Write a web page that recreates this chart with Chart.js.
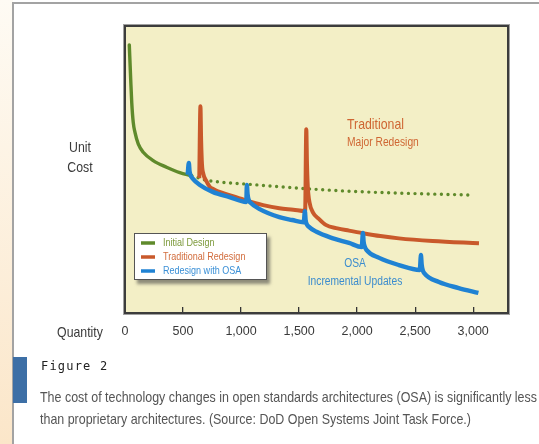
<!DOCTYPE html>
<html>
<head>
<meta charset="utf-8">
<script src="https://cdn.jsdelivr.net/npm/chart.js@4.4.0/dist/chart.umd.min.js"></script>
<style>
html, body { margin: 0; padding: 0; width: 539px; height: 444px; overflow: hidden; background: #fff; }
body { position: relative; font-family: "Liberation Sans", Arial, sans-serif; }
#side { position: absolute; left: 0; top: 0; width: 13px; height: 444px; background: linear-gradient(#fefbf4, #fbe6c9); }
#frame { position: absolute; left: 12px; top: 2px; width: 560px; height: 470px; border-left: 2px solid #a3a3a3; border-top: 2px solid #a3a3a3; background: #fff; }
#chart { position: absolute; left: 0; top: 0; }
.lbl { position: absolute; color: #3a3a3a; font-size: 15px; line-height: 20px; text-align: center; transform: scaleX(0.82); transform-origin: center; }
#figbar { position: absolute; left: 13px; top: 357px; width: 14px; height: 46px; background: #3d6fa6; }
#fig { position: absolute; left: 41px; top: 359px; font: 12px "DejaVu Sans Mono", monospace; letter-spacing: 1.2px; color: #222; line-height: 15px; }
.cap { position: absolute; left: 40px; font-size: 15px; line-height: 20px; color: #555; white-space: nowrap; transform-origin: left center; }
</style>
</head>
<body>
<div id="side"></div>
<div id="frame"></div>
<canvas id="chart" width="539" height="350"></canvas>
<div class="lbl" style="left:50px; top:137px; width:60px;">Unit<br>Cost</div>
<div class="lbl" style="left:40px; top:322px; width:80px;">Quantity</div>
<div id="figbar"></div>
<div id="fig">Figure 2</div>
<div class="cap" id="cap1" style="top:387px;">The cost of technology changes in open standards architectures (OSA) is significantly less</div>
<div class="cap" id="cap2" style="top:409px;">than proprietary architectures. (Source: DoD Open Systems Joint Task Force.)</div>
<script>
// --- Dados ---
const tickValues = [0, 500, 1000, 1500, 2000, 2500, 3000];
const tickLabels = ['0', '500', '1,000', '1,500', '2,000', '2,500', '3,000'];

const initialQty  = [37, 49, 58, 71, 86, 114, 157, 243, 358, 472, 575, 700, 850, 1050, 1300, 1600, 2000, 2500, 2990];
const initialCost = [93.4, 81.5, 73.4, 66.4, 62.9, 58.9, 56.0, 53.1, 50.8, 48.9, 47.8, 46.3, 45.5, 44.9, 44.1, 43.2, 42.3, 41.6, 41.1];
const projectionStart = 575;   // a partir daqui a linha verde é pontilhada

const tradQty  = [640, 650, 656, 663, 675, 700, 730, 760, 800, 900, 1045, 1190, 1330, 1450, 1552,
                  1562, 1568, 1575, 1590, 1620, 1670, 1730, 1830, 1930, 2050, 2200, 2360, 2650, 3050];
const tradCost = [47.0, 72.0, 60.0, 52.0, 48.5, 46.0, 44.0, 43.2, 42.4, 41.1, 39.2, 37.6, 36.5, 36.0, 35.5,
                  64.0, 52.0, 44.0, 38.5, 35.0, 32.8, 30.7, 29.5, 28.7, 27.8, 26.8, 26.0, 25.1, 24.3];

const osaQty  = [540, 550, 556, 565, 580, 645, 755, 900, 1045,
                 1050, 1056, 1065, 1085, 1160, 1330, 1440, 1540,
                 1550, 1556, 1565, 1580, 1650, 1785, 1930, 2040,
                 2050, 2056, 2065, 2080, 2190, 2360, 2540,
                 2550, 2556, 2565, 2580, 2705, 2875, 3045];
const osaCost = [48.2, 52.3, 49.5, 48.0, 47.0, 44.6, 42.2, 40.4, 38.7,
                 44.6, 41.5, 39.5, 38.3, 36.2, 33.4, 32.4, 31.6,
                 35.5, 32.5, 31.0, 30.2, 28.3, 26.1, 24.4, 23.0,
                 27.9, 24.8, 23.2, 22.0, 19.2, 16.7, 15.0,
                 20.2, 17.0, 15.0, 13.8, 10.8, 8.7, 7.0];

const seriesNames = ['Initial Design', 'Traditional Redesign', 'Redesign with OSA'];

const FONT = '"Liberation Sans", Arial, sans-serif';
const NARROW = 0.82;   // sem fonte "narrow" instalada: comprime na horizontal

function toPoints(xs, ys) {
    return xs.map((x, i) => ({ x: x, y: ys[i] }));
}

// texto comprimido no canvas
function narrowText(ctx, text, x, y, align) {
    ctx.save();
    ctx.translate(x, y);
    ctx.scale(NARROW, 1);
    ctx.textAlign = align;
    ctx.fillText(text, 0, 0);
    ctx.restore();
}

// legenda da figura: ajusta a largura da primeira linha
const cap1 = document.getElementById('cap1');
const cap2 = document.getElementById('cap2');
const k = 497 / cap1.getBoundingClientRect().width;
cap1.style.transform = cap2.style.transform = 'scaleX(' + k + ')';

// =======================
// Fundo e borda da área do gráfico
// =======================
const areaPlugin = {
    id: 'areaPlugin',
    beforeDraw(chart) {
        const { ctx, chartArea: a } = chart;
        ctx.save();
        ctx.fillStyle = '#f3efc6';
        ctx.fillRect(a.left, a.top, a.right - a.left, a.bottom - a.top);
        ctx.restore();
    },
    afterDraw(chart) {
        const { ctx, chartArea: a } = chart;
        ctx.save();
        ctx.strokeStyle = '#a0a0a0';
        ctx.lineWidth = 1;
        ctx.strokeRect(a.left - 1.5, a.top - 1.5, a.right - a.left + 3, a.bottom - a.top + 3);
        ctx.strokeStyle = '#3c3c3c';
        ctx.lineWidth = 2;
        ctx.strokeRect(a.left, a.top, a.right - a.left, a.bottom - a.top);
        ctx.restore();
    }
};

// =======================
// Legenda dentro do gráfico + textos explicativos
// =======================
const notesPlugin = {
    id: 'notesPlugin',
    afterDatasetsDraw(chart) {
        const { ctx, chartArea: a } = chart;
        ctx.save();
        ctx.textBaseline = 'middle';

        ctx.fillStyle = '#cf6633';
        ctx.font = '15px ' + FONT;
        narrowText(ctx, 'Traditional', a.left + 222, a.top + 99, 'left');
        ctx.font = '12.5px ' + FONT;
        narrowText(ctx, 'Major Redesign', a.left + 222, a.top + 117, 'left');

        ctx.fillStyle = '#3b8cce';
        ctx.font = '12.5px ' + FONT;
        narrowText(ctx, 'OSA', a.left + 230, a.top + 238, 'center');
        narrowText(ctx, 'Incremental Updates', a.left + 230, a.top + 256, 'center');

        // legenda
        const lx = a.left + 9, ly = a.bottom - 80, w = 133, h = 47;
        ctx.save();
        ctx.shadowColor = 'rgba(60,60,60,0.55)';
        ctx.shadowOffsetX = 3;
        ctx.shadowOffsetY = 4;
        ctx.shadowBlur = 3;
        ctx.fillStyle = '#fff';
        ctx.fillRect(lx, ly, w, h);
        ctx.restore();
        ctx.strokeStyle = '#555';
        ctx.lineWidth = 1;
        ctx.strokeRect(lx + 0.5, ly + 0.5, w - 1, h - 1);

        ctx.font = '11px ' + FONT;
        chart.data.datasets.forEach((ds, i) => {
            const y = ly + 10 + i * 14;
            ctx.strokeStyle = ds.borderColor;
            ctx.lineWidth = 3.5;
            ctx.lineCap = 'butt';
            ctx.beginPath();
            ctx.moveTo(lx + 7, y);
            ctx.lineTo(lx + 21, y);
            ctx.stroke();
            ctx.fillStyle = ds.legendText;
            narrowText(ctx, ds.label, lx + 29, y, 'left');
        });
        ctx.restore();
    }
};

const ctxCusto = document.getElementById('chart').getContext('2d');
const custoChart = new Chart(ctxCusto, {
    type: 'line',
    data: {
        datasets: [{
            label: seriesNames[0],
            data: toPoints(initialQty, initialCost),
            borderColor: '#5f8a2b',
            legendText: '#7d9a3c',
            borderWidth: 3.4,
            borderCapStyle: 'round',
            pointRadius: 0,
            cubicInterpolationMode: 'monotone',
            order: 3,
            segment: {
                borderDash: ctx => ctx.p0.parsed.x >= projectionStart ? [0, 6.6] : undefined
            }
        }, {
            label: seriesNames[1],
            data: toPoints(tradQty, tradCost),
            borderColor: '#c9592b',
            legendText: '#d26c3c',
            borderWidth: 4,
            pointRadius: 0,
            cubicInterpolationMode: 'monotone',
            order: 2
        }, {
            label: seriesNames[2],
            data: toPoints(osaQty, osaCost),
            borderColor: '#1f82d3',
            legendText: '#3a8fd6',
            borderWidth: 4.4,
            pointRadius: 0,
            cubicInterpolationMode: 'monotone',
            order: 1
        }]
    },
    options: {
        responsive: false,
        animation: false,
        devicePixelRatio: 1,
        layout: { padding: { left: 125, right: 31, top: 26, bottom: 7 } },
        plugins: {
            legend: { display: false },
            tooltip: { enabled: false }
        },
        scales: {
            x: {
                type: 'linear',
                min: 0,
                max: 3300,
                afterFit(scale) { scale.height = 30; },
                afterBuildTicks(scale) { scale.ticks = tickValues.map(v => ({ value: v })); },
                border: { display: false },
                grid: {
                    drawOnChartArea: false,
                    drawTicks: true,
                    tickLength: -6,
                    color: '#333',
                    lineWidth: 1.3
                },
                ticks: {
                    padding: 17,
                    maxRotation: 0,
                    autoSkip: false,
                    color: '#3a3a3a',
                    font: { family: FONT, size: 12.5 },
                    callback: (v) => tickLabels[tickValues.indexOf(v)]
                }
            },
            y: {
                display: false,
                min: 0,
                max: 100
            }
        }
    },
    plugins: [areaPlugin, notesPlugin]
});
</script>
</body>
</html>
